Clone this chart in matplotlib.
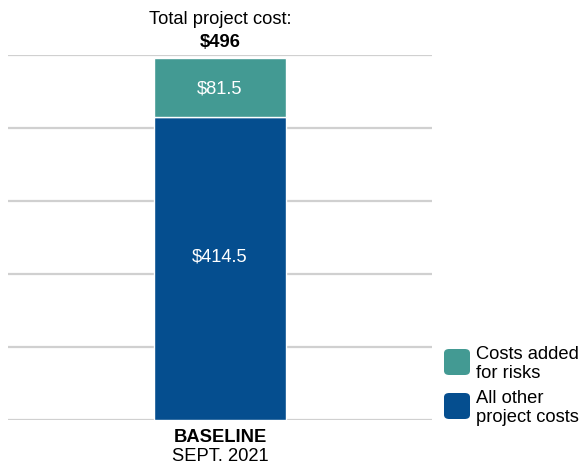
import matplotlib.pyplot as plt
from matplotlib.patches import FancyBboxPatch

plt.rcParams['font.family'] = ['Liberation Sans', 'DejaVu Sans']

# project cost breakdown, millions of dollars
category = 'BASELINE'
date_label = 'SEPT. 2021'
other_costs = 414.5
risk_costs = 81.5
total_cost = other_costs + risk_costs

series_names = ['Costs added\nfor risks', 'All other\nproject costs']
teal = '#439a93'
blue = '#054e8f'
fs = 13.2

fig = plt.figure(figsize=(5.81, 4.64), dpi=100)
ax = fig.add_axes([8 / 581, 43 / 464, 424 / 581, 365 / 464])

# gridlines every 100
for y in range(0, 600, 100):
    ax.axhline(y, color='#d0d0d0', lw=1.6, zorder=0)

ax.bar(0, other_costs, width=0.311, color=blue, edgecolor='white', lw=1, zorder=2)
ax.bar(0, risk_costs, bottom=other_costs, width=0.311, color=teal,
       edgecolor='white', lw=1, zorder=2)

ax.text(0, other_costs * 0.543, f'${other_costs:g}', color='white', ha='center',
        va='center', fontsize=fs, zorder=3)
ax.text(0, other_costs + risk_costs / 2, f'${risk_costs:g}', color='white',
        ha='center', va='center', fontsize=fs, zorder=3)

ax.set_xlim(-0.5, 0.5)
ax.set_ylim(0, 500)
ax.axis('off')

# title above the bar
ax.text(0, 1.1, 'Total project cost:', transform=ax.get_xaxis_transform(),
        ha='center', va='center', fontsize=fs)
ax.text(0, 1.036, f'${total_cost:g}', transform=ax.get_xaxis_transform(),
        ha='center', va='center', fontsize=fs, fontweight='bold')

# category label below
ax.text(0, -0.045, category, transform=ax.get_xaxis_transform(),
        ha='center', va='center', fontsize=fs, fontweight='bold')
ax.text(0, -0.098, date_label, transform=ax.get_xaxis_transform(),
        ha='center', va='center', fontsize=fs)

# legend
for i, (name, col) in enumerate(zip(series_names, [teal, blue])):
    y0 = 464 - 376 - i * 44
    box = FancyBboxPatch((444 / 581, y0 / 464), 26 / 581, 26 / 464,
                         boxstyle='round,pad=0,rounding_size=0.009',
                         transform=fig.transFigure, facecolor=col,
                         edgecolor='none')
    fig.patches.append(box)
    fig.text(476 / 581, (y0 + 12) / 464, name, ha='left', va='center',
             fontsize=fs, linespacing=1.12)

fig.savefig('out.png', dpi=100)
